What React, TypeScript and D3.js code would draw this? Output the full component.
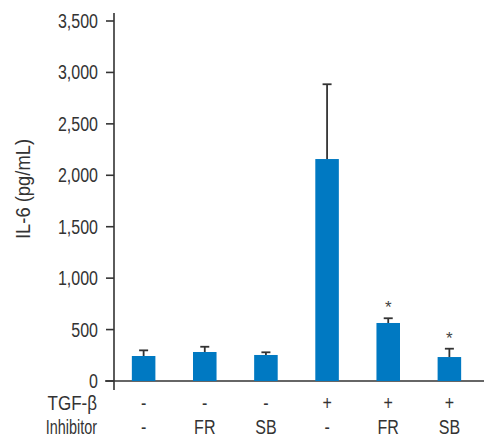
import * as d3 from "d3";
import { useEffect, useRef } from "react";

const groups = ["g1", "g2", "g3", "g4", "g5", "g6"];
const tgfLabels = ["-", "-", "-", "+", "+", "+"];
const inhibitorLabels = ["-", "FR", "SB", "-", "FR", "SB"];
const il6Values = [243, 282, 253, 2158, 564, 233];
const il6Errors = [55, 51, 26, 727, 46, 81];
const significant = [false, false, false, false, true, true];
const yTicks = [0, 500, 1000, 1500, 2000, 2500, 3000, 3500];

export default function App() {
  const ref = useRef<SVGSVGElement | null>(null);
  useEffect(() => {
    if (!ref.current) return;
    const svg = d3.select(ref.current);
    svg.selectAll("*").remove();
    const w = 484;
    const font = "'Liberation Sans', Arial, sans-serif";
    const ink = "#333";
    const x = d3.scaleBand<string>().domain(groups).range([113.5, 479.5]).paddingInner(0.615).paddingOuter(0.3);
    const y = d3.scaleLinear().domain([0, 3500]).range([381, 21]);

    // narrow text: the original uses a condensed face, so squeeze Liberation Sans
    const label = (px: number, py: number, txt: string, anchor: string, sx: number, size = 20) =>
      svg
        .append("text")
        .attr("transform", `translate(${px},${py}) scale(${sx},1)`)
        .attr("dy", "0.35em")
        .attr("text-anchor", anchor)
        .attr("font-family", font)
        .attr("font-size", size)
        .attr("fill", ink)
        .text(txt);

    // axes
    svg.append("line").attr("x1", 114).attr("x2", 114).attr("y1", 13).attr("y2", 390).attr("stroke", ink).attr("stroke-width", 1.6);
    svg.append("line").attr("x1", 105).attr("x2", w).attr("y1", y(0)).attr("y2", y(0)).attr("stroke", ink).attr("stroke-width", 1.6);
    yTicks.forEach((t) => {
      svg.append("line").attr("x1", 106).attr("x2", 114).attr("y1", y(t)).attr("y2", y(t)).attr("stroke", ink).attr("stroke-width", 1.6);
      label(98, y(t), d3.format(",")(t), "end", 0.8);
    });

    svg
      .append("text")
      .attr("transform", "translate(30,189) rotate(-90) scale(0.92,1)")
      .attr("text-anchor", "middle")
      .attr("font-family", font)
      .attr("font-size", 20)
      .attr("fill", ink)
      .text("IL-6 (pg/mL)");

    // error bars (drawn first so bars cover stem base)
    groups.forEach((g, i) => {
      const cx = (x(g) ?? 0) + x.bandwidth() / 2;
      const top = y(il6Values[i] + il6Errors[i]);
      svg.append("line").attr("x1", cx).attr("x2", cx).attr("y1", y(il6Values[i])).attr("y2", top).attr("stroke", ink).attr("stroke-width", 1.8);
      svg.append("line").attr("x1", cx - 4.5).attr("x2", cx + 4.5).attr("y1", top).attr("y2", top).attr("stroke", ink).attr("stroke-width", 1.8);
      if (significant[i]) {
        svg
          .append("text")
          .attr("x", cx)
          .attr("y", top - 5)
          .attr("text-anchor", "middle")
          .attr("font-family", font)
          .attr("font-size", 17)
          .attr("fill", "#444")
          .text("*");
      }
    });

    svg
      .append("g")
      .selectAll("rect")
      .data(il6Values)
      .join("rect")
      .attr("x", (_, i) => x(groups[i]) ?? 0)
      .attr("y", (d) => y(d))
      .attr("width", x.bandwidth())
      .attr("height", (d) => y(0) - y(d))
      .attr("fill", "#0079c2");

    // condition rows
    const rows: [string, string[], number][] = [
      ["TGF-\u03b2", tgfLabels, 403],
      ["Inhibitor", inhibitorLabels, 427],
    ];
    rows.forEach(([name, labels, ry]) => {
      label(97, ry, name, "end", name === "Inhibitor" ? 0.72 : 0.85);
      labels.forEach((l, i) => {
        label((x(groups[i]) ?? 0) + x.bandwidth() / 2, ry, l, "middle", 0.8);
      });
    });
  }, []);
  return <svg ref={ref} width={484} height={438} style={{ position: "absolute", left: 0, top: 0 }} />;
}
